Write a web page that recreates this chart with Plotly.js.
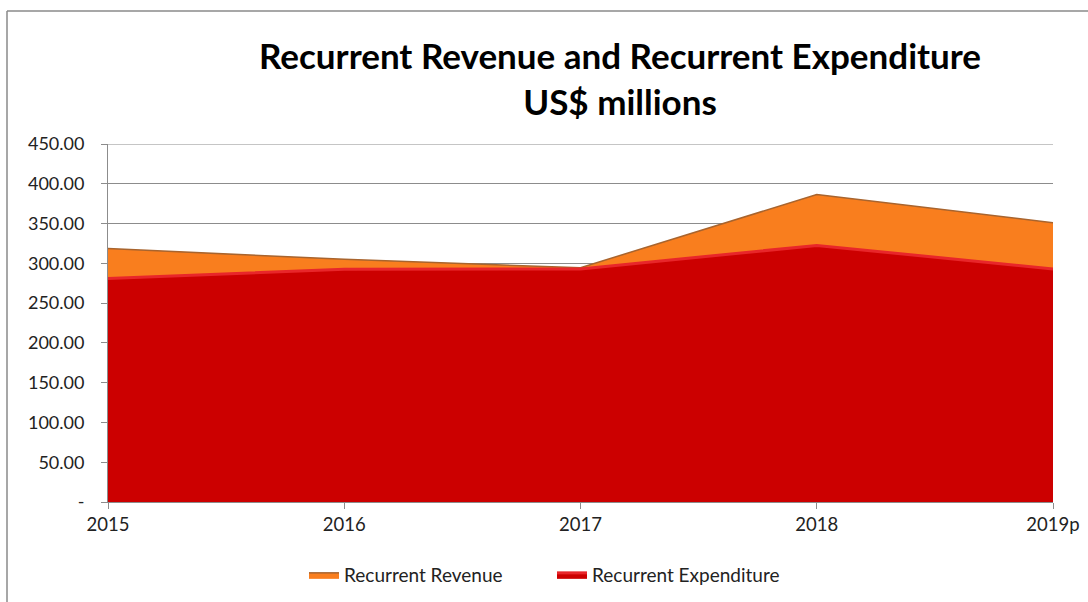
<!DOCTYPE html>
<html>
<head>
<meta charset="utf-8">
<script src="https://cdn.plot.ly/plotly-3.0.1.min.js"></script>
<style>
  html, body { margin: 0; padding: 0; background: #fff; }
  #chart { width: 1088px; height: 602px; }
</style>
</head>
<body>
<div id="chart"></div>
<script>
const years = ["2015", "2016", "2017", "2018", "2019p"];
const recurrentRevenue = [318.5, 305, 294.5, 386.5, 351];
const recurrentExpenditure = [281, 292.5, 293, 322.5, 293];
const yTickValues = [0, 50, 100, 150, 200, 250, 300, 350, 400, 450];
const yTickLabels = ["-", "50.00", "100.00", "150.00", "200.00", "250.00", "300.00", "350.00", "400.00", "450.00"];

const FONT = "Lato, 'Open Sans', sans-serif";
const yMax = yTickValues[yTickValues.length - 1];

const traces = [
  {
    name: "Recurrent Revenue",
    x: years, y: recurrentRevenue,
    type: "scatter", mode: "lines",
    fill: "tozeroy",
    fillcolor: "#F97E1E",
    line: { color: "#A8642E", width: 1.5 },
    hoverinfo: "skip"
  },
  {
    name: "Recurrent Expenditure",
    x: years, y: recurrentExpenditure,
    type: "scatter", mode: "lines",
    fill: "tozeroy",
    fillcolor: "#CC0000",
    line: { color: "#E8262A", width: 3 },
    hoverinfo: "skip"
  }
];

const layout = {
  width: 1088, height: 602,
  paper_bgcolor: "#ffffff",
  plot_bgcolor: "#ffffff",
  margin: { l: 108, r: 35, t: 144, b: 100 },
  font: { family: FONT, color: "#222", size: 16 },
  title: {
    text: "<b>Recurrent Revenue and Recurrent Expenditure<br>US$ millions</b>",
    font: { family: FONT, size: 35, color: "#000" },
    x: 620 / 1088, xref: "container", xanchor: "center",
    y: 1 - 69 / 602, yref: "container", yanchor: "middle"
  },
  xaxis: {
    type: "category",
    range: [0, 4],
    showgrid: false,
    showline: true, linecolor: "#8c8c8c", linewidth: 1,
    ticks: "outside", ticklen: 6, tickcolor: "#8c8c8c",
    tickfont: { family: FONT, size: 18.5, color: "#222" },
    fixedrange: true
  },
  yaxis: {
    range: [0, yMax],
    tickvals: yTickValues, ticktext: yTickLabels,
    showgrid: true, gridcolor: "#8c8c8c", gridwidth: 1,
    showline: true, linecolor: "#8c8c8c", linewidth: 1,
    ticks: "outside", ticklen: 6, tickcolor: "#8c8c8c",
    ticklabelstandoff: 13,
    tickfont: { family: FONT, size: 18, color: "#222" },
    zeroline: false,
    fixedrange: true
  },
  showlegend: true,
  legend: {
    orientation: "h",
    x: 552 / 1088, xref: "container", xanchor: "center",
    y: 1 - 575 / 602, yref: "container", yanchor: "middle",
    font: { family: FONT, size: 19, color: "#222" },
    itemwidth: 30,
    entrywidth: 203,
    traceorder: "normal"
  },
  shapes: [
    { type: "line", xref: "paper", yref: "y", layer: "below",
      x0: 0, x1: 1, y0: yMax, y1: yMax,
      line: { color: "#8c8c8c", width: 1 } },
    { type: "line", xref: "paper", yref: "paper",
      x0: (7 - 108) / 945, x1: 1.2, y0: (602 - 100 - 11) / 358 , y1: (602 - 100 - 11) / 358,
      line: { color: "#8a8a8a", width: 1.5 } },
    { type: "line", xref: "paper", yref: "paper",
      x0: (7 - 108) / 945, x1: (7 - 108) / 945, y0: (602 - 100 - 11) / 358, y1: -0.5,
      line: { color: "#8a8a8a", width: 1.5 } }
  ]
};

Plotly.newPlot("chart", traces, layout, { displayModeBar: false, staticPlot: true });
</script>
</body>
</html>
